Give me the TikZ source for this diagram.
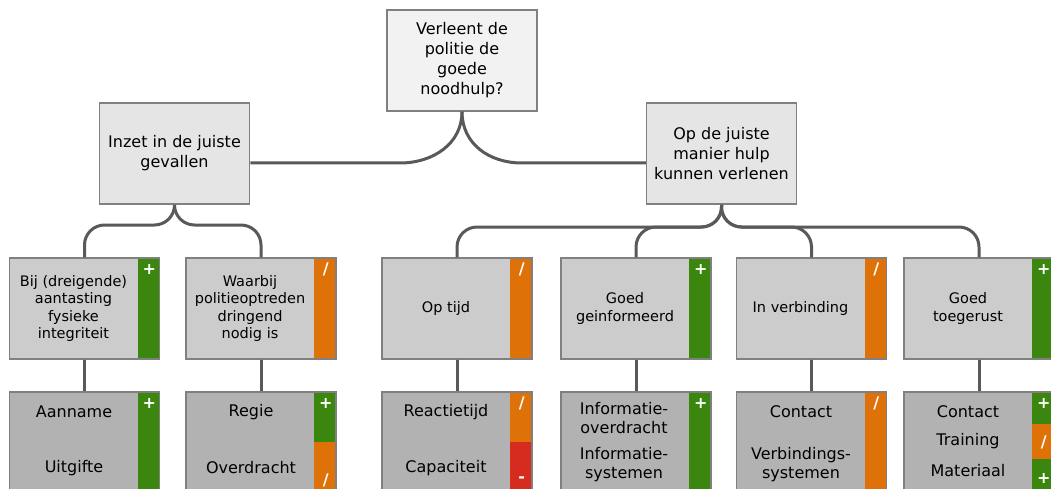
\documentclass[tikz,border=0pt]{standalone}
\usepackage{fontspec}
\setmainfont{DejaVu Sans}
\usepackage{tikz}
\definecolor{barGreen}{RGB}{59,134,14}
\definecolor{barOrange}{RGB}{222,114,8}
\definecolor{barRed}{RGB}{214,44,32}
\definecolor{lineGray}{RGB}{89,89,89}
\definecolor{rimGray}{RGB}{128,128,128}
\tikzset{
  box/.style={draw=rimGray, line width=1.5pt, minimum width=150pt,
    minimum height=101pt, inner sep=0pt, align=center},
  bar/.style={path picture={\fill[#1] ([xshift=-22pt]path picture bounding box.north east)
    rectangle (path picture bounding box.south east);}},
  bartwo/.style 2 args={path picture={
    \fill[#1] ([xshift=-22pt]path picture bounding box.north east)
      rectangle ([yshift=-50pt]path picture bounding box.north east);
    \fill[#2] ([xshift=-22pt,yshift=-50pt]path picture bounding box.north east)
      rectangle (path picture bounding box.south east);}},
  barthree/.style n args={3}{path picture={
    \fill[#1] ([xshift=-22pt]path picture bounding box.north east)
      rectangle ([yshift=-32pt]path picture bounding box.north east);
    \fill[#2] ([xshift=-22pt,yshift=-32pt]path picture bounding box.north east)
      rectangle ([yshift=-67pt]path picture bounding box.north east);
    \fill[#3] ([xshift=-22pt,yshift=-67pt]path picture bounding box.north east)
      rectangle (path picture bounding box.south east);}},
}
\tikzstyle{conn}=[lineGray, line width=3pt]
\tikzstyle{rootbox}=[box, fill=black!5, font=\fontsize{16}{20}\selectfont]
\tikzstyle{midbox}=[box, fill=black!10, font=\fontsize{16}{20}\selectfont]
\tikzstyle{critbox}=[box, fill=black!20]
\tikzstyle{facbox}=[box, fill=black!30]
\tikzstyle{crittext}=[align=center, font=\fontsize{14.5}{17.3}\selectfont]
\tikzstyle{factext}=[align=center, font=\fontsize{16}{19}\selectfont]
\tikzstyle{sign}=[text=white, font=\fontsize{16}{16}\selectfont\bfseries]

\begin{document}
\begin{tikzpicture}[x=1pt,y=-1pt]
  \fill[white] (0,0) rectangle (1051,489);
  \clip (0,0) rectangle (1051,489);
  % hoofdvraag en deelvragen
  \node[rootbox] (root) at (462,60.5) {Verleent de\\politie de\\goede\\noodhulp?};
  \node[midbox] (inzet) at (174.5,153.5) {Inzet in de juiste\\gevallen};
  \node[midbox] (opde) at (721.5,153.5) {Op de juiste\\manier hulp\\kunnen verlenen};

  % criteria
  \node[critbox, bar=barGreen] (bij) at (84.5,308.5) {};
  \node[critbox, bar=barOrange] (waarbij) at (261,308.5) {};
  \node[critbox, bar=barOrange] (optijd) at (457,308.5) {};
  \node[critbox, bar=barGreen] (geinf) at (636,308.5) {};
  \node[critbox, bar=barOrange] (verb) at (811.5,308.5) {};
  \node[critbox, bar=barGreen] (uitrust) at (979,308.5) {};
  \node[crittext] (bij-t) at ([xshift=-11pt]bij.center) {Bij (dreigende)\\aantasting\\fysieke\\integriteit};
  \node[crittext] (waarbij-t) at ([xshift=-11pt]waarbij.center) {Waarbij\\politieoptreden\\dringend\\nodig is};
  \node[crittext] (optijd-t) at ([xshift=-11pt]optijd.center) {Op tijd};
  \node[crittext] (geinf-t) at ([xshift=-11pt]geinf.center) {Goed\\geinformeerd};
  \node[crittext] (verb-t) at ([xshift=-11pt]verb.center) {In verbinding};
  \node[crittext] (uitrust-t) at ([xshift=-11pt]uitrust.center) {Goed\\toegerust};

  % factoren
  \node[facbox, bar=barGreen] (fac-bij) at (84.5,442.5) {};
  \node[facbox, bartwo={barGreen}{barOrange}] (fac-waarbij) at (261,442.5) {};
  \node[facbox, bartwo={barOrange}{barRed}] (fac-optijd) at (457,442.5) {};
  \node[facbox, bar=barGreen] (fac-geinf) at (636,442.5) {};
  \node[facbox, bar=barOrange] (fac-verb) at (811.5,442.5) {};
  \node[facbox, barthree={barGreen}{barOrange}{barGreen}] (fac-uitrust) at (979,442.5) {};

  \node[factext] (aanname) at (74,412) {Aanname};
  \node[factext] (uitgifte) at (74,468) {Uitgifte};
  \node[factext] (regie) at (251,412) {Regie};
  \node[factext] (overdracht) at (251,468) {Overdracht};
  \node[factext] (reactie) at (446,412) {Reactietijd};
  \node[factext] (capaciteit) at (446,468) {Capaciteit};
  \node[factext] (info-over) at (624,418.5) {Informatie-\\overdracht};
  \node[factext] (info-sys) at (624,464.5) {Informatie-\\systemen};
  \node[factext] (contact) at (801,412) {Contact};
  \node[factext] (verb-sys) at (801,464.5) {Verbindings-\\systemen};
  \node[factext] (contact2) at (968,412) {Contact};
  \node[factext] (training) at (968,441) {Training};
  \node[factext] (materiaal) at (968,471) {Materiaal};

  % oordelen
  \node[sign] (s1) at ([xshift=-11pt,yshift=-12pt]bij.north east) {+};
  \node[sign] (s2) at ([xshift=-11pt,yshift=-12pt]waarbij.north east) {/};
  \node[sign] (s3) at ([xshift=-11pt,yshift=-12pt]optijd.north east) {/};
  \node[sign] (s4) at ([xshift=-11pt,yshift=-12pt]geinf.north east) {+};
  \node[sign] (s5) at ([xshift=-11pt,yshift=-12pt]verb.north east) {/};
  \node[sign] (s6) at ([xshift=-11pt,yshift=-12pt]uitrust.north east) {+};
  \node[sign] (f1) at ([xshift=-11pt,yshift=-12pt]fac-bij.north east) {+};
  \node[sign] (f2) at ([xshift=-11pt,yshift=-12pt]fac-waarbij.north east) {+};
  \node[sign] (f3) at ([xshift=-11pt,yshift=13pt]fac-waarbij.south east) {/};
  \node[sign] (f4) at ([xshift=-11pt,yshift=-12pt]fac-optijd.north east) {/};
  \node[sign] (f5) at ([xshift=-11pt,yshift=14pt]fac-optijd.south east) {-};
  \node[sign] (f6) at ([xshift=-11pt,yshift=-12pt]fac-geinf.north east) {+};
  \node[sign] (f7) at ([xshift=-11pt,yshift=-12pt]fac-verb.north east) {/};
  \node[sign] (f8) at ([xshift=-11pt,yshift=-12pt]fac-uitrust.north east) {+};
  \node[sign] (f9) at ([xshift=-11pt,yshift=-51pt]fac-uitrust.north east) {/};
  \node[sign] (f10) at ([xshift=-11pt,yshift=15pt]fac-uitrust.south east) {+};

  % verbindingen
  \coordinate (lk) at (400,163);
  \coordinate (rk) at (522,163);
  \draw[conn] (root.south) .. controls +(0,32) and +(33,0) .. (lk) -- (inzet.east |- lk);
  \draw[conn] (root.south) .. controls +(0,32) and +(-33,0) .. (rk) -- (opde.west |- rk);
  \coordinate (yl) at (0,225);
  \foreach \c in {bij,waarbij}
    \draw[conn,rounded corners=20pt] (inzet.south) -- (inzet.south |- yl) -- (\c.north |- yl) -- (\c.north);
  \coordinate (yr) at (0,227);
  \foreach \c in {optijd,geinf,verb,uitrust}
    \draw[conn,rounded corners=20pt] (opde.south) -- (opde.south |- yr) -- (\c.north |- yr) -- (\c.north);
  \foreach \c in {bij,waarbij,optijd,geinf,verb,uitrust}
    \draw[conn] (\c.south) -- (fac-\c.north);
\end{tikzpicture}
\end{document}
